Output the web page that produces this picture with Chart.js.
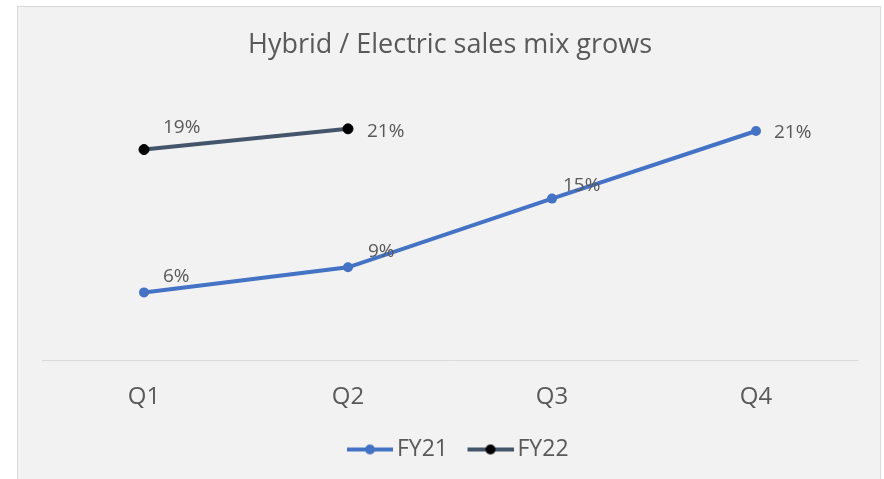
<!DOCTYPE html>
<html>
<head>
<meta charset="utf-8">
<script src="https://cdn.jsdelivr.net/npm/chart.js@4.4.1/dist/chart.umd.min.js"></script>
<style>
  html, body { margin: 0; padding: 0; background: #fff; }
  #frame {
    position: absolute; left: 17px; top: 6px; width: 862px; height: 490px;
    background: #f2f2f2; border: 1px solid #d9d9d9;
  }
  #wrap { position: absolute; left: 0; top: 0; width: 884px; height: 479px; }
</style>
</head>
<body>
<div id="frame"></div>
<div id="wrap"><canvas id="mixChart" width="884" height="479"></canvas></div>
<script>
// Data
const quarters = ["Q1", "Q2", "Q3", "Q4"];
const fy21 = [6.2, 8.5, 14.8, 21.0];
const fy22 = [19.3, 21.2, null, null];

const textColor = "#595959";
const fontFamily = "'Open Sans', 'Noto Sans', sans-serif";

// legend marker: line with a dot, drawn in the right part of a wider canvas
// so the empty left part spaces the legend items apart
function legendIcon(lineColor, dotColor) {
  const c = document.createElement("canvas");
  c.width = 69; c.height = 12;
  const g = c.getContext("2d");
  g.strokeStyle = lineColor;
  g.lineWidth = 4;
  g.beginPath(); g.moveTo(23, 6); g.lineTo(69, 6); g.stroke();
  g.fillStyle = dotColor;
  g.beginPath(); g.arc(46, 6, 5, 0, Math.PI * 2); g.fill();
  return c;
}
const legendIcons = [legendIcon("#4472c4", "#4472c4"), legendIcon("#44546a", "#000")];

// draws the % labels next to each point
const pointLabels = {
  id: "pointLabels",
  afterDatasetsDraw(chart) {
    const ctx = chart.ctx;
    ctx.save();
    ctx.font = "19px " + fontFamily;
    ctx.fillStyle = textColor;
    ctx.textAlign = "left";
    ctx.textBaseline = "middle";
    chart.data.datasets.forEach((ds, i) => {
      const meta = chart.getDatasetMeta(i);
      meta.data.forEach((pt, j) => {
        const v = ds.data[j];
        if (v == null) return;
        const off = ds.labelOffsets[j];
        ctx.fillText(Math.round(v) + "%", pt.x + off[0], pt.y + off[1]);
      });
    });
    ctx.restore();
  }
};

const ctx = document.getElementById("mixChart").getContext("2d");
const chart = new Chart(ctx, {
  type: "line",
  data: {
    labels: quarters,
    datasets: [
      {
        label: "FY21", data: fy21,
        borderColor: "#4472c4", backgroundColor: "#4472c4",
        borderWidth: 4, pointRadius: 5, pointHoverRadius: 5,
        pointBorderWidth: 0, tension: 0,
        labelOffsets: [[19, -16], [20, -16], [11, -13], [18, 2]]
      },
      {
        label: "FY22", data: fy22,
        borderColor: "#44546a", backgroundColor: "#000",
        borderWidth: 4, pointRadius: 5, pointHoverRadius: 5,
        pointBorderWidth: 1, pointBorderColor: "#000", tension: 0,
        labelOffsets: [[19, -22], [19, 3]]
      }
    ]
  },
  options: {
    responsive: false,
    animation: false,
    layout: { padding: { left: 42, right: 26, top: 0, bottom: 8 } },
    plugins: {
      title: {
        display: true,
        text: "Hybrid / Electric sales mix grows",
        color: textColor,
        font: { family: fontFamily, size: 27, weight: "normal" },
        padding: { top: 29, bottom: 26 }
      },
      legend: {
        position: "bottom",
        labels: {
          usePointStyle: true,
          pointStyleWidth: 54,
          color: textColor,
          font: { family: fontFamily, size: 23 },
          padding: 4,
          generateLabels(ch) {
            return ch.data.datasets.map((ds, i) => ({
              text: ds.label,
              pointStyle: legendIcons[i],
              fontColor: textColor,
              strokeStyle: "transparent",
              fillStyle: "transparent",
              lineWidth: 0,
              datasetIndex: i
            }));
          }
        }
      },
      tooltip: { enabled: false }
    },
    scales: {
      x: {
        offset: true,
        grid: { display: false, drawTicks: false },
        border: { display: true, color: "#d9d9d9", width: 1 },
        ticks: { color: textColor, font: { family: fontFamily, size: 24, lineHeight: 1 }, padding: 25 }
      },
      y: {
        display: false,
        min: 0,
        max: 25
      }
    }
  },
  plugins: [pointLabels]
});
</script>
</body>
</html>
